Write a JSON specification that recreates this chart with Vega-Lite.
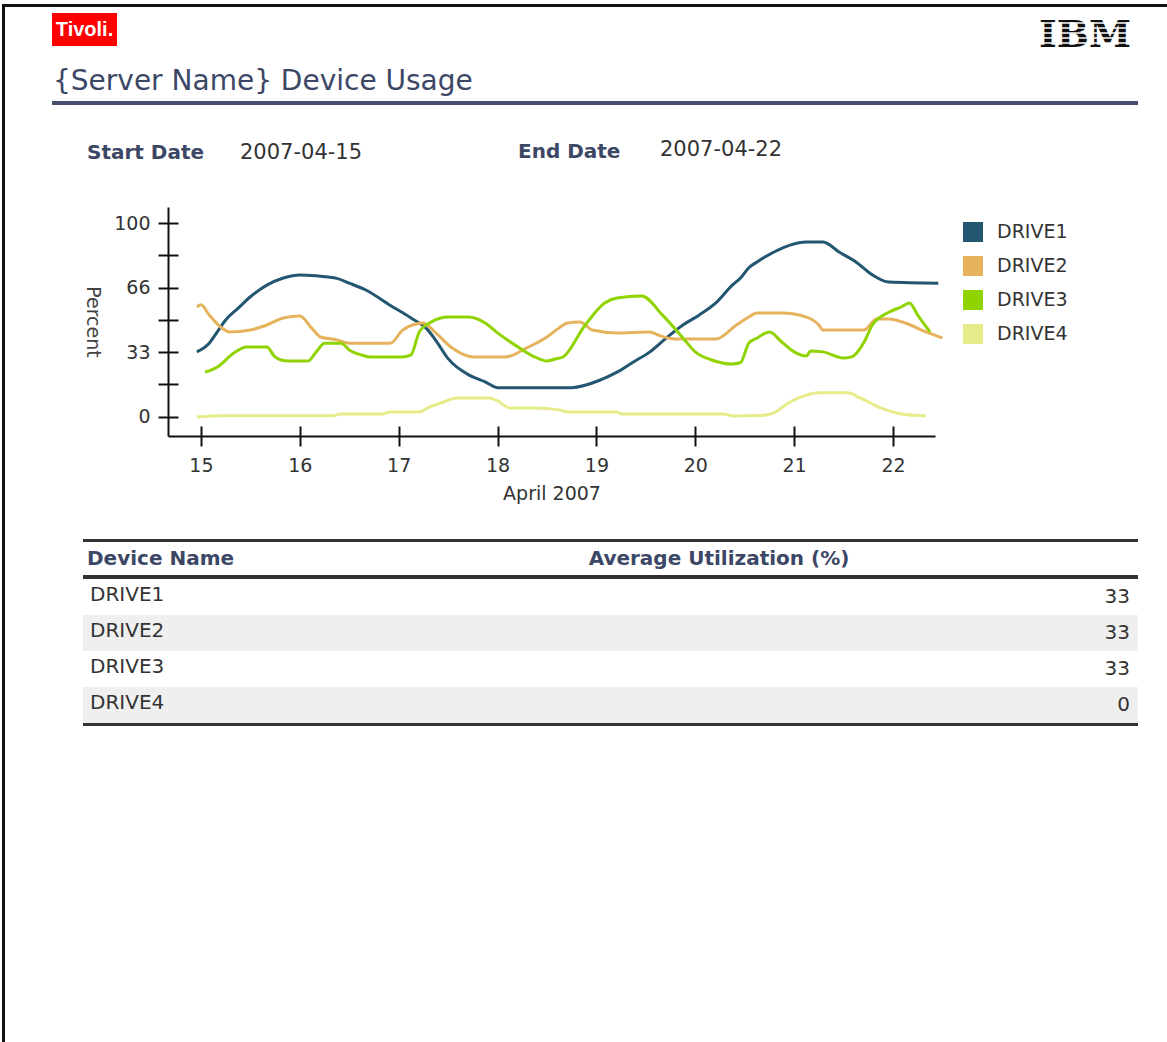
{
  "$schema": "https://vega.github.io/schema/vega-lite/v6.json",
  "background": "white",
  "padding": {"left": 2, "top": 4, "right": 0, "bottom": 0},
  "config": {"view": {"stroke": null}, "font": "DejaVu Sans", "concat": {"spacing": 0}},
  "spacing": 0,
  "vconcat": [
    {"width": 1165, "height": 3, "view": {"fill": "#111111"}, "data": {"values": []}, "mark": "rect"},
    {
      "spacing": 47,
      "hconcat": [
        {"width": 3, "height": 1035, "view": {"fill": "#111111"}, "data": {"values": []}, "mark": "rect"},
        {
          "spacing": 0,
          "vconcat": [
            {"width": 1, "height": 6, "data": {"values": []}, "mark": "rect"},
            {
              "spacing": 923,
              "bounds": "flush",
              "hconcat": [
                {"width": 65, "height": 33, "view": {"fill": "#ff0000"}, "data": {"values": [{"label": "Tivoli."}]},
                 "mark": {"type": "text", "font": "Liberation Sans Narrow, Liberation Sans, Arial, sans-serif", "fontWeight": "bold", "fontSize": 20, "fill": "#ffffff"},
                 "encoding": {"text": {"field": "label"}}},
                {"width": 90, "height": 40,
                 "layer": [
                   {"data": {"values": [{"label": "IBM"}]},
                    "mark": {"type": "text", "font": "DejaVu Serif", "fontWeight": "bold", "fontSize": 38, "fill": "#111111", "baseline": "alphabetic", "dy": 13.8},
                    "encoding": {"text": {"field": "label"}}},
                   {"data": {"values": [{"stripe": "s1"}, {"stripe": "s2"}, {"stripe": "s3"}, {"stripe": "s4"}, {"stripe": "s5"}, {"stripe": "s6"}, {"stripe": "s7"}]},
                    "mark": {"type": "rule", "stroke": "#ffffff", "strokeWidth": 1.3},
                    "encoding": {"y": {"field": "stripe", "type": "nominal", "scale": {"type": "point", "padding": 2.4}, "axis": null}}}
                 ]}
              ]
            },
            {"width": 1086, "height": 46, "data": {"values": [{"label": "{Server Name} Device Usage"}]},
             "mark": {"type": "text", "align": "left", "baseline": "alphabetic", "fontSize": 28, "fill": "#3c4766", "dx": 1, "dy": 12},
             "encoding": {"text": {"field": "label"}, "x": {"datum": 0, "type": "quantitative", "scale": {"domain": [0, 1]}, "axis": null}}},
            {"width": 1086, "height": 4, "view": {"fill": "#454f6c"}, "data": {"values": []}, "mark": "rect"},
            {
              "spacing": 0,
              "bounds": "flush",
              "hconcat": [
                {"width": 34, "height": 96, "data": {"values": []}, "mark": "rect"},
                {"width": 153, "height": 96, "data": {"values": [{"label": "Start Date"}]},
                 "mark": {"type": "text", "align": "left", "fontSize": 20, "fontWeight": "bold", "fill": "#3c4766", "dx": 1},
                 "encoding": {"text": {"field": "label"}, "x": {"datum": 0, "type": "quantitative", "scale": {"domain": [0, 1]}, "axis": null}}},
                {"width": 278, "height": 96, "data": {"values": [{"label": "2007-04-15"}]},
                 "mark": {"type": "text", "align": "left", "fontSize": 21, "fill": "#333333", "dx": 1},
                 "encoding": {"text": {"field": "label"}, "x": {"datum": 0, "type": "quantitative", "scale": {"domain": [0, 1]}, "axis": null}}},
                {"width": 142, "height": 96, "data": {"values": [{"label": "End Date"}]},
                 "mark": {"type": "text", "align": "left", "fontSize": 20, "fontWeight": "bold", "fill": "#3c4766", "dx": 1, "dy": -1},
                 "encoding": {"text": {"field": "label"}, "x": {"datum": 0, "type": "quantitative", "scale": {"domain": [0, 1]}, "axis": null}}},
                {"width": 200, "height": 96, "data": {"values": [{"label": "2007-04-22"}]},
                 "mark": {"type": "text", "align": "left", "fontSize": 21, "fill": "#333333", "dx": 1, "dy": -3},
                 "encoding": {"text": {"field": "label"}, "x": {"datum": 0, "type": "quantitative", "scale": {"domain": [0, 1]}, "axis": null}}}
              ]
            },
            {"width": 1, "height": 6, "data": {"values": []}, "mark": "rect"},
            {
              "spacing": 115,
              "bounds": "flush",
              "resolve": {"legend": {"color": "independent"}},
              "hconcat": [
                {"width": 1, "height": 332, "data": {"values": []}, "mark": "rect"},
                {
                  "width": 767,
                  "height": 229,
                  "data": {"values": [
                    {"drive": "DRIVE1", "t": "2007-04-14T23:00", "pct": 33.5},
                    {"drive": "DRIVE1", "t": "2007-04-15T02:00", "pct": 38},
                    {"drive": "DRIVE1", "t": "2007-04-15T04:00", "pct": 44},
                    {"drive": "DRIVE1", "t": "2007-04-15T06:00", "pct": 50},
                    {"drive": "DRIVE1", "t": "2007-04-15T09:00", "pct": 56},
                    {"drive": "DRIVE1", "t": "2007-04-15T12:00", "pct": 62},
                    {"drive": "DRIVE1", "t": "2007-04-15T16:00", "pct": 68},
                    {"drive": "DRIVE1", "t": "2007-04-15T20:00", "pct": 71.7},
                    {"drive": "DRIVE1", "t": "2007-04-16T00:00", "pct": 73.3},
                    {"drive": "DRIVE1", "t": "2007-04-16T04:00", "pct": 72.8},
                    {"drive": "DRIVE1", "t": "2007-04-16T09:00", "pct": 71.5},
                    {"drive": "DRIVE1", "t": "2007-04-16T12:00", "pct": 69},
                    {"drive": "DRIVE1", "t": "2007-04-16T16:00", "pct": 65.5},
                    {"drive": "DRIVE1", "t": "2007-04-16T22:00", "pct": 57.5},
                    {"drive": "DRIVE1", "t": "2007-04-17T03:00", "pct": 51},
                    {"drive": "DRIVE1", "t": "2007-04-17T07:00", "pct": 45},
                    {"drive": "DRIVE1", "t": "2007-04-17T09:00", "pct": 39.5},
                    {"drive": "DRIVE1", "t": "2007-04-17T12:00", "pct": 30},
                    {"drive": "DRIVE1", "t": "2007-04-17T17:00", "pct": 21.6},
                    {"drive": "DRIVE1", "t": "2007-04-17T21:00", "pct": 18},
                    {"drive": "DRIVE1", "t": "2007-04-18T00:00", "pct": 15},
                    {"drive": "DRIVE1", "t": "2007-04-18T18:00", "pct": 15},
                    {"drive": "DRIVE1", "t": "2007-04-19T01:00", "pct": 19},
                    {"drive": "DRIVE1", "t": "2007-04-19T05:00", "pct": 23},
                    {"drive": "DRIVE1", "t": "2007-04-19T09:00", "pct": 28.3},
                    {"drive": "DRIVE1", "t": "2007-04-19T13:00", "pct": 33.5},
                    {"drive": "DRIVE1", "t": "2007-04-19T17:00", "pct": 40.7},
                    {"drive": "DRIVE1", "t": "2007-04-19T21:00", "pct": 47.4},
                    {"drive": "DRIVE1", "t": "2007-04-20T01:00", "pct": 52.6},
                    {"drive": "DRIVE1", "t": "2007-04-20T05:00", "pct": 58.8},
                    {"drive": "DRIVE1", "t": "2007-04-20T09:00", "pct": 68},
                    {"drive": "DRIVE1", "t": "2007-04-20T11:00", "pct": 71.7},
                    {"drive": "DRIVE1", "t": "2007-04-20T13:00", "pct": 77},
                    {"drive": "DRIVE1", "t": "2007-04-20T15:00", "pct": 80},
                    {"drive": "DRIVE1", "t": "2007-04-20T19:00", "pct": 85},
                    {"drive": "DRIVE1", "t": "2007-04-20T23:00", "pct": 88.7},
                    {"drive": "DRIVE1", "t": "2007-04-21T03:00", "pct": 90.3},
                    {"drive": "DRIVE1", "t": "2007-04-21T07:00", "pct": 90.3},
                    {"drive": "DRIVE1", "t": "2007-04-21T11:00", "pct": 85},
                    {"drive": "DRIVE1", "t": "2007-04-21T15:00", "pct": 80},
                    {"drive": "DRIVE1", "t": "2007-04-21T19:00", "pct": 73.3},
                    {"drive": "DRIVE1", "t": "2007-04-21T23:00", "pct": 69.6},
                    {"drive": "DRIVE1", "t": "2007-04-22T11:00", "pct": 69},
                    {"drive": "DRIVE2", "t": "2007-04-14T23:00", "pct": 56.7},
                    {"drive": "DRIVE2", "t": "2007-04-15T00:00", "pct": 57.8},
                    {"drive": "DRIVE2", "t": "2007-04-15T02:00", "pct": 52.6},
                    {"drive": "DRIVE2", "t": "2007-04-15T05:00", "pct": 45.9},
                    {"drive": "DRIVE2", "t": "2007-04-15T07:00", "pct": 43.8},
                    {"drive": "DRIVE2", "t": "2007-04-15T12:00", "pct": 44.8},
                    {"drive": "DRIVE2", "t": "2007-04-15T16:00", "pct": 47.4},
                    {"drive": "DRIVE2", "t": "2007-04-15T20:00", "pct": 51},
                    {"drive": "DRIVE2", "t": "2007-04-16T00:00", "pct": 52},
                    {"drive": "DRIVE2", "t": "2007-04-16T03:00", "pct": 45.5},
                    {"drive": "DRIVE2", "t": "2007-04-16T05:00", "pct": 41.2},
                    {"drive": "DRIVE2", "t": "2007-04-16T09:00", "pct": 39.7},
                    {"drive": "DRIVE2", "t": "2007-04-16T12:00", "pct": 38},
                    {"drive": "DRIVE2", "t": "2007-04-16T22:00", "pct": 38},
                    {"drive": "DRIVE2", "t": "2007-04-17T01:00", "pct": 44.8},
                    {"drive": "DRIVE2", "t": "2007-04-17T06:00", "pct": 48.4},
                    {"drive": "DRIVE2", "t": "2007-04-17T09:00", "pct": 43.3},
                    {"drive": "DRIVE2", "t": "2007-04-17T13:00", "pct": 35.5},
                    {"drive": "DRIVE2", "t": "2007-04-17T18:00", "pct": 30.9},
                    {"drive": "DRIVE2", "t": "2007-04-18T02:00", "pct": 30.9},
                    {"drive": "DRIVE2", "t": "2007-04-18T07:00", "pct": 35.5},
                    {"drive": "DRIVE2", "t": "2007-04-18T12:00", "pct": 41.2},
                    {"drive": "DRIVE2", "t": "2007-04-18T15:00", "pct": 46},
                    {"drive": "DRIVE2", "t": "2007-04-18T17:00", "pct": 48.4},
                    {"drive": "DRIVE2", "t": "2007-04-18T20:00", "pct": 49},
                    {"drive": "DRIVE2", "t": "2007-04-18T23:00", "pct": 44.8},
                    {"drive": "DRIVE2", "t": "2007-04-19T05:00", "pct": 43.3},
                    {"drive": "DRIVE2", "t": "2007-04-19T13:00", "pct": 43.8},
                    {"drive": "DRIVE2", "t": "2007-04-19T15:00", "pct": 42.2},
                    {"drive": "DRIVE2", "t": "2007-04-19T19:00", "pct": 40.2},
                    {"drive": "DRIVE2", "t": "2007-04-20T05:00", "pct": 40.2},
                    {"drive": "DRIVE2", "t": "2007-04-20T10:00", "pct": 47.4},
                    {"drive": "DRIVE2", "t": "2007-04-20T13:00", "pct": 51.5},
                    {"drive": "DRIVE2", "t": "2007-04-20T15:00", "pct": 53.6},
                    {"drive": "DRIVE2", "t": "2007-04-20T21:00", "pct": 53.6},
                    {"drive": "DRIVE2", "t": "2007-04-21T03:00", "pct": 51.5},
                    {"drive": "DRIVE2", "t": "2007-04-21T06:00", "pct": 47.4},
                    {"drive": "DRIVE2", "t": "2007-04-21T07:00", "pct": 44.8},
                    {"drive": "DRIVE2", "t": "2007-04-21T17:00", "pct": 44.8},
                    {"drive": "DRIVE2", "t": "2007-04-21T20:00", "pct": 50.5},
                    {"drive": "DRIVE2", "t": "2007-04-21T23:00", "pct": 50.5},
                    {"drive": "DRIVE2", "t": "2007-04-22T03:00", "pct": 48.4},
                    {"drive": "DRIVE2", "t": "2007-04-22T08:00", "pct": 43.8},
                    {"drive": "DRIVE2", "t": "2007-04-22T12:00", "pct": 40.7},
                    {"drive": "DRIVE3", "t": "2007-04-15T01:00", "pct": 23},
                    {"drive": "DRIVE3", "t": "2007-04-15T04:00", "pct": 25.7},
                    {"drive": "DRIVE3", "t": "2007-04-15T08:00", "pct": 32.9},
                    {"drive": "DRIVE3", "t": "2007-04-15T11:00", "pct": 36},
                    {"drive": "DRIVE3", "t": "2007-04-15T16:00", "pct": 36},
                    {"drive": "DRIVE3", "t": "2007-04-15T18:00", "pct": 30.9},
                    {"drive": "DRIVE3", "t": "2007-04-15T21:00", "pct": 28.8},
                    {"drive": "DRIVE3", "t": "2007-04-16T02:00", "pct": 28.8},
                    {"drive": "DRIVE3", "t": "2007-04-16T04:00", "pct": 33.5},
                    {"drive": "DRIVE3", "t": "2007-04-16T06:00", "pct": 38},
                    {"drive": "DRIVE3", "t": "2007-04-16T10:00", "pct": 38},
                    {"drive": "DRIVE3", "t": "2007-04-16T12:00", "pct": 34.5},
                    {"drive": "DRIVE3", "t": "2007-04-16T15:00", "pct": 31.9},
                    {"drive": "DRIVE3", "t": "2007-04-16T17:00", "pct": 30.9},
                    {"drive": "DRIVE3", "t": "2007-04-17T01:00", "pct": 30.9},
                    {"drive": "DRIVE3", "t": "2007-04-17T03:00", "pct": 31.9},
                    {"drive": "DRIVE3", "t": "2007-04-17T05:00", "pct": 43.8},
                    {"drive": "DRIVE3", "t": "2007-04-17T08:00", "pct": 49},
                    {"drive": "DRIVE3", "t": "2007-04-17T12:00", "pct": 51.5},
                    {"drive": "DRIVE3", "t": "2007-04-17T17:00", "pct": 51.5},
                    {"drive": "DRIVE3", "t": "2007-04-17T21:00", "pct": 48.4},
                    {"drive": "DRIVE3", "t": "2007-04-18T00:00", "pct": 43.3},
                    {"drive": "DRIVE3", "t": "2007-04-18T05:00", "pct": 36},
                    {"drive": "DRIVE3", "t": "2007-04-18T09:00", "pct": 30.9},
                    {"drive": "DRIVE3", "t": "2007-04-18T12:00", "pct": 28.8},
                    {"drive": "DRIVE3", "t": "2007-04-18T14:00", "pct": 29.8},
                    {"drive": "DRIVE3", "t": "2007-04-18T16:00", "pct": 31},
                    {"drive": "DRIVE3", "t": "2007-04-18T21:00", "pct": 46.5},
                    {"drive": "DRIVE3", "t": "2007-04-19T02:00", "pct": 58.8},
                    {"drive": "DRIVE3", "t": "2007-04-19T05:00", "pct": 61.4},
                    {"drive": "DRIVE3", "t": "2007-04-19T11:00", "pct": 62.4},
                    {"drive": "DRIVE3", "t": "2007-04-19T16:00", "pct": 52.6},
                    {"drive": "DRIVE3", "t": "2007-04-19T21:00", "pct": 40.7},
                    {"drive": "DRIVE3", "t": "2007-04-20T00:00", "pct": 33.5},
                    {"drive": "DRIVE3", "t": "2007-04-20T04:00", "pct": 29.3},
                    {"drive": "DRIVE3", "t": "2007-04-20T09:00", "pct": 27.2},
                    {"drive": "DRIVE3", "t": "2007-04-20T11:00", "pct": 28},
                    {"drive": "DRIVE3", "t": "2007-04-20T13:00", "pct": 38},
                    {"drive": "DRIVE3", "t": "2007-04-20T15:00", "pct": 40.7},
                    {"drive": "DRIVE3", "t": "2007-04-20T18:00", "pct": 43.8},
                    {"drive": "DRIVE3", "t": "2007-04-20T21:00", "pct": 38.6},
                    {"drive": "DRIVE3", "t": "2007-04-21T00:00", "pct": 33.5},
                    {"drive": "DRIVE3", "t": "2007-04-21T03:00", "pct": 31.4},
                    {"drive": "DRIVE3", "t": "2007-04-21T04:00", "pct": 34},
                    {"drive": "DRIVE3", "t": "2007-04-21T07:00", "pct": 33.5},
                    {"drive": "DRIVE3", "t": "2007-04-21T12:00", "pct": 30.3},
                    {"drive": "DRIVE3", "t": "2007-04-21T14:00", "pct": 30.9},
                    {"drive": "DRIVE3", "t": "2007-04-21T17:00", "pct": 38.6},
                    {"drive": "DRIVE3", "t": "2007-04-21T19:00", "pct": 47.4},
                    {"drive": "DRIVE3", "t": "2007-04-21T23:00", "pct": 54},
                    {"drive": "DRIVE3", "t": "2007-04-22T02:00", "pct": 56.7},
                    {"drive": "DRIVE3", "t": "2007-04-22T04:00", "pct": 58.8},
                    {"drive": "DRIVE3", "t": "2007-04-22T06:00", "pct": 52.5},
                    {"drive": "DRIVE3", "t": "2007-04-22T09:00", "pct": 43.8},
                    {"drive": "DRIVE4", "t": "2007-04-14T23:00", "pct": -0.2},
                    {"drive": "DRIVE4", "t": "2007-04-15T05:00", "pct": 0.5},
                    {"drive": "DRIVE4", "t": "2007-04-16T08:00", "pct": 0.5},
                    {"drive": "DRIVE4", "t": "2007-04-16T10:00", "pct": 1.4},
                    {"drive": "DRIVE4", "t": "2007-04-16T20:00", "pct": 1.4},
                    {"drive": "DRIVE4", "t": "2007-04-16T22:00", "pct": 2.4},
                    {"drive": "DRIVE4", "t": "2007-04-17T05:00", "pct": 2.4},
                    {"drive": "DRIVE4", "t": "2007-04-17T07:00", "pct": 4.5},
                    {"drive": "DRIVE4", "t": "2007-04-17T11:00", "pct": 7.6},
                    {"drive": "DRIVE4", "t": "2007-04-17T14:00", "pct": 9.7},
                    {"drive": "DRIVE4", "t": "2007-04-17T22:00", "pct": 9.7},
                    {"drive": "DRIVE4", "t": "2007-04-18T00:00", "pct": 8.1},
                    {"drive": "DRIVE4", "t": "2007-04-18T03:00", "pct": 4.5},
                    {"drive": "DRIVE4", "t": "2007-04-18T09:00", "pct": 4.5},
                    {"drive": "DRIVE4", "t": "2007-04-18T15:00", "pct": 3.5},
                    {"drive": "DRIVE4", "t": "2007-04-18T17:00", "pct": 2.4},
                    {"drive": "DRIVE4", "t": "2007-04-19T05:00", "pct": 2.4},
                    {"drive": "DRIVE4", "t": "2007-04-19T06:00", "pct": 1.4},
                    {"drive": "DRIVE4", "t": "2007-04-20T07:00", "pct": 1.4},
                    {"drive": "DRIVE4", "t": "2007-04-20T09:00", "pct": 0.4},
                    {"drive": "DRIVE4", "t": "2007-04-20T16:00", "pct": 0.6},
                    {"drive": "DRIVE4", "t": "2007-04-20T19:00", "pct": 1.9},
                    {"drive": "DRIVE4", "t": "2007-04-20T23:00", "pct": 7.6},
                    {"drive": "DRIVE4", "t": "2007-04-21T03:00", "pct": 11.2},
                    {"drive": "DRIVE4", "t": "2007-04-21T06:00", "pct": 12.3},
                    {"drive": "DRIVE4", "t": "2007-04-21T13:00", "pct": 12.3},
                    {"drive": "DRIVE4", "t": "2007-04-21T16:00", "pct": 9.7},
                    {"drive": "DRIVE4", "t": "2007-04-21T21:00", "pct": 4.5},
                    {"drive": "DRIVE4", "t": "2007-04-22T02:00", "pct": 1.4},
                    {"drive": "DRIVE4", "t": "2007-04-22T08:00", "pct": 0.4}
                  ]},
                  "mark": {"type": "line", "strokeWidth": 3, "interpolate": "monotone"},
                  "encoding": {
                    "x": {
                      "field": "t", "type": "temporal",
                      "scale": {"domain": [{"year": 2007, "month": 4, "date": 14, "hours": 16}, {"year": 2007, "month": 4, "date": 22, "hours": 10, "minutes": 12}], "nice": false},
                      "axis": {
                        "orient": "bottom",
                        "title": "April 2007",
                        "values": [
                          {"year": 2007, "month": 4, "date": 14, "hours": 16},
                          {"year": 2007, "month": 4, "date": 15},
                          {"year": 2007, "month": 4, "date": 16},
                          {"year": 2007, "month": 4, "date": 17},
                          {"year": 2007, "month": 4, "date": 18},
                          {"year": 2007, "month": 4, "date": 19},
                          {"year": 2007, "month": 4, "date": 20},
                          {"year": 2007, "month": 4, "date": 21},
                          {"year": 2007, "month": 4, "date": 22}
                        ],
                        "format": "%d",
                        "labelExpr": "datum.value < datetime(2007, 3, 14, 20) ? '' : datum.label",
                        "offset": -10,
                        "tickSize": 20,
                        "tickWidth": 2,
                        "tickColor": {"condition": {"test": "datum.value < datetime(2007, 3, 14, 20)", "value": "transparent"}, "value": "#111111"},
                        "domain": false,
                        "grid": true,
                        "gridColor": "#111111",
                        "gridWidth": 2,
                        "gridOpacity": {"condition": {"test": "datum.value < datetime(2007, 3, 14, 20)", "value": 1}, "value": 0},
                        "labelFontSize": 19,
                        "labelColor": "#333333",
                        "labelPadding": 10,
                        "labelFlush": false,
                        "labelOverlap": false,
                        "titleFontSize": 19,
                        "titleFontWeight": "normal",
                        "titleColor": "#333333",
                        "titlePadding": 9
                      }
                    },
                    "y": {
                      "field": "pct", "type": "quantitative",
                      "scale": {"domain": [-10, 108.4], "nice": false, "zero": false},
                      "axis": {
                        "orient": "left",
                        "title": "Percent",
                        "values": [-10, 0, 16.667, 33.333, 50, 66.667, 83.333, 100],
                        "labelExpr": "datum.value == 0 ? '0' : datum.value == 100 ? '100' : abs(datum.value - 33.333) < 0.01 ? '33' : abs(datum.value - 66.667) < 0.01 ? '66' : ''",
                        "offset": -10,
                        "tickSize": 20,
                        "tickWidth": 2,
                        "tickColor": {"condition": {"test": "datum.value < -5", "value": "transparent"}, "value": "#111111"},
                        "domain": false,
                        "grid": true,
                        "gridColor": "#111111",
                        "gridWidth": 2,
                        "gridOpacity": {"condition": {"test": "datum.value < -5", "value": 1}, "value": 0},
                        "labelFontSize": 19,
                        "labelColor": "#333333",
                        "labelPadding": 8,
                        "labelOverlap": false,
                        "titleFontSize": 19,
                        "titleFontWeight": "normal",
                        "titleColor": "#444444",
                        "titleAngle": 90,
                        "titleBaseline": "top",
                        "titlePadding": 12
                      }
                    },
                    "color": {
                      "field": "drive", "type": "nominal",
                      "scale": {"domain": ["DRIVE1", "DRIVE2", "DRIVE3", "DRIVE4"], "range": ["#235670", "#e6b35c", "#8fd300", "#e6ec8a"]},
                      "legend": {
                        "orient": "right",
                        "title": null,
                        "offset": -1,
                        "padding": 15,
                        "labelFontSize": 19,
                        "labelColor": "#333333",
                        "labelOffset": 14,
                        "rowPadding": 14,
                        "symbolType": "square",
                        "symbolSize": 400,
                        "symbolStrokeWidth": 0,
                        "encode": {"symbols": {"update": {"fill": {"scale": "color", "field": "value"}, "fillOpacity": {"value": 1}, "opacity": {"value": 1}, "strokeWidth": {"value": 0}}}}
                      }
                    }
                  }
                }
              ]
            },
            {
              "spacing": 30,
              "hconcat": [
                {"width": 1, "height": 190, "data": {"values": []}, "mark": "rect"},
                {
                  "spacing": 0,
                  "vconcat": [
                    {"width": 1055, "height": 3, "view": {"fill": "#333333"}, "data": {"values": []}, "mark": "rect"},
                    {
                      "spacing": 0,
                      "bounds": "flush",
                      "hconcat": [
                        {"width": 217, "height": 33, "data": {"values": [{"label": "Device Name"}]},
                         "mark": {"type": "text", "align": "left", "fontSize": 20, "fontWeight": "bold", "fill": "#3c4766", "dx": 4},
                         "encoding": {"text": {"field": "label"}, "x": {"datum": 0, "type": "quantitative", "scale": {"domain": [0, 1]}, "axis": null}}},
                        {"width": 838, "height": 33, "data": {"values": [{"label": "Average Utilization (%)"}]},
                         "mark": {"type": "text", "fontSize": 20, "fontWeight": "bold", "fill": "#3c4766"},
                         "encoding": {"text": {"field": "label"}}}
                      ]
                    },
                    {"width": 1055, "height": 4, "view": {"fill": "#333333"}, "data": {"values": []}, "mark": "rect"},
                    {
                      "width": 1055,
                      "height": 144,
                      "data": {"values": [
                        {"device": "DRIVE1", "avg": 33},
                        {"device": "DRIVE2", "avg": 33},
                        {"device": "DRIVE3", "avg": 33},
                        {"device": "DRIVE4", "avg": 0}
                      ]},
                      "layer": [
                        {
                          "transform": [{"filter": "datum.device == 'DRIVE2' || datum.device == 'DRIVE4'"}],
                          "mark": {"type": "rect", "fill": "#efefef"},
                          "encoding": {
                            "y": {"field": "device", "type": "nominal", "scale": {"domain": ["DRIVE1", "DRIVE2", "DRIVE3", "DRIVE4"], "paddingInner": 0, "paddingOuter": 0}, "axis": null},
                            "x": {"datum": 0, "type": "quantitative", "scale": {"domain": [0, 1]}, "axis": null},
                            "x2": {"datum": 1}
                          }
                        },
                        {
                          "mark": {"type": "text", "align": "left", "fontSize": 20, "fill": "#333333", "dx": 7, "dy": -2},
                          "encoding": {
                            "y": {"field": "device", "type": "nominal"},
                            "x": {"datum": 0, "type": "quantitative", "scale": {"domain": [0, 1]}, "axis": null},
                            "text": {"field": "device"}
                          }
                        },
                        {
                          "mark": {"type": "text", "align": "right", "fontSize": 20, "fill": "#333333", "dx": -8},
                          "encoding": {
                            "y": {"field": "device", "type": "nominal"},
                            "x": {"datum": 1, "type": "quantitative", "scale": {"domain": [0, 1]}, "axis": null},
                            "text": {"field": "avg", "type": "quantitative"}
                          }
                        }
                      ]
                    },
                    {"width": 1055, "height": 3, "view": {"fill": "#333333"}, "data": {"values": []}, "mark": "rect"}
                  ]
                }
              ]
            }
          ]
        }
      ]
    }
  ]
}
